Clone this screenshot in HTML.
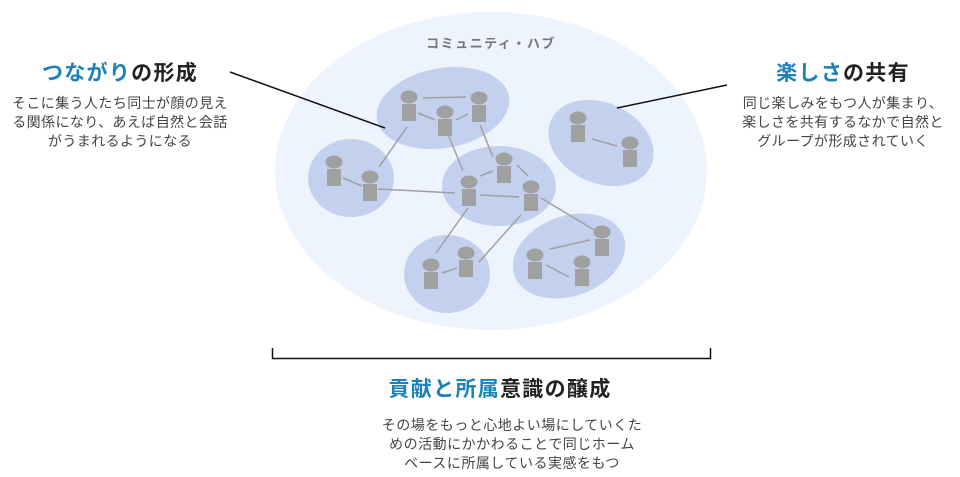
<!DOCTYPE html>
<html><head><meta charset="utf-8"><style>
html,body{margin:0;padding:0;background:#fff;}
svg{display:block;font-family:"Liberation Sans","Noto Sans CJK JP",sans-serif;}
.t{font-size:21px;font-weight:bold;fill:#222;letter-spacing:1.3px}
.b{font-size:14px;fill:#444;letter-spacing:0.4px}
.bl{fill:#1a82b8}
</style></head><body>
<svg width="960" height="477" viewBox="0 0 960 477" xmlns="http://www.w3.org/2000/svg">
<ellipse cx="491" cy="171" rx="216" ry="159" fill="#eef4fe"/>
<text x="491" y="48" text-anchor="middle" font-size="13" font-weight="bold" fill="#777" letter-spacing="1.5">コミュニティ・ハブ</text>
<g fill="#c3d0ee">
<ellipse cx="443" cy="108" rx="67" ry="40" transform="rotate(-10 443 108)"/>
<ellipse cx="351" cy="178" rx="43" ry="39"/>
<ellipse cx="499" cy="186" rx="57" ry="40"/>
<ellipse cx="601" cy="143" rx="55" ry="40" transform="rotate(25 601 143)"/>
<ellipse cx="447" cy="274" rx="43" ry="39"/>
<ellipse cx="569" cy="256" rx="58" ry="40" transform="rotate(-20 569 256)"/>
</g>
<g stroke="#a0a0a0" stroke-width="1.5">
<line x1="423" y1="98" x2="466" y2="97"/>
<line x1="418" y1="113" x2="435" y2="120"/>
<line x1="456" y1="120" x2="468" y2="114"/>
<line x1="407" y1="127" x2="379" y2="167"/>
<line x1="446" y1="129" x2="463" y2="171"/>
<line x1="480" y1="125" x2="493" y2="157"/>
<line x1="343" y1="178" x2="362" y2="186"/>
<line x1="378" y1="189" x2="455" y2="193"/>
<line x1="480" y1="176" x2="493" y2="171"/>
<line x1="517" y1="165" x2="528" y2="176"/>
<line x1="480" y1="195" x2="519" y2="197"/>
<line x1="468" y1="208" x2="436" y2="253"/>
<line x1="521" y1="215" x2="479" y2="262"/>
<line x1="541" y1="198" x2="596" y2="231"/>
<line x1="550" y1="249" x2="590" y2="240"/>
<line x1="546" y1="265" x2="569" y2="277"/>
<line x1="442" y1="273" x2="457" y2="268"/>
<line x1="592" y1="139" x2="617" y2="146"/>
</g>
<defs><g id="p" fill="#a0a0a0"><ellipse cx="0" cy="0" rx="8.5" ry="6.5"/><rect x="-7" y="7" width="14" height="17"/></g></defs>
<use href="#p" x="409" y="97"/><use href="#p" x="445" y="112"/><use href="#p" x="479" y="98"/>
<use href="#p" x="334" y="162"/><use href="#p" x="370" y="177"/>
<use href="#p" x="504" y="159"/><use href="#p" x="469" y="182"/><use href="#p" x="531" y="187"/>
<use href="#p" x="431" y="265"/><use href="#p" x="466" y="253"/>
<use href="#p" x="602" y="232"/><use href="#p" x="535" y="255"/><use href="#p" x="582" y="262"/>
<use href="#p" x="578" y="118"/><use href="#p" x="630" y="143"/>
<g stroke="#111" stroke-width="1.5" fill="none">
<line x1="230" y1="72" x2="385" y2="128"/>
<line x1="617" y1="108" x2="727" y2="85"/>
<path d="M272.5 348 V358.5 H710.5 V348"/>
</g>
<text class="t" x="120" y="80" text-anchor="middle"><tspan class="bl">つながり</tspan>の形成</text>
<text class="b" x="120" y="108" text-anchor="middle">そこに集う人たち同士が顔の見え</text>
<text class="b" x="120" y="127" text-anchor="middle">る関係になり、あえば自然と会話</text>
<text class="b" x="120" y="146" text-anchor="middle">がうまれるようになる</text>
<text class="t" x="843" y="80" text-anchor="middle"><tspan class="bl">楽しさ</tspan>の共有</text>
<text class="b" x="843" y="108" text-anchor="middle">同じ楽しみをもつ人が集まり、</text>
<text class="b" x="843" y="127" text-anchor="middle">楽しさを共有するなかで自然と</text>
<text class="b" x="843" y="146" text-anchor="middle">グループが形成されていく</text>
<text class="t" x="500" y="396" text-anchor="middle"><tspan class="bl">貢献と所属</tspan>意識の醸成</text>
<text class="b" x="512" y="430" text-anchor="middle" style="letter-spacing:0.5px">その場をもっと心地よい場にしていくた</text>
<text class="b" x="512" y="449" text-anchor="middle" style="letter-spacing:0.5px">めの活動にかかわることで同じホーム</text>
<text class="b" x="512" y="468" text-anchor="middle" style="letter-spacing:0.5px">ベースに所属している実感をもつ</text>
</svg>
</body></html>
